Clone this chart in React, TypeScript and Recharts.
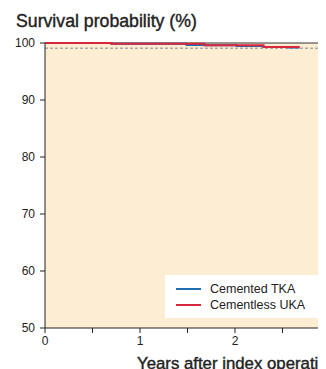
import React from 'react';
import { LineChart, Line, XAxis, YAxis, ReferenceArea, ReferenceLine } from 'recharts';

// Kaplan-Meier style step curves (years after operation, survival %)
const tkaYears = [0, 0.7, 1.49, 1.68, 2.02, 2.3, 2.56, 2.68];
const tkaSurvival = [100, 99.85, 99.65, 99.6, 99.47, 99.3, 99.2, 99.2];
const ukaYears = [0, 0.7, 1.68, 2.3, 2.68];
const ukaSurvival = [100, 99.85, 99.6, 99.3, 99.3];

const seriesNames = ['Cemented TKA', 'Cementless UKA'];
const seriesColors = ['#1f6cb0', '#d7263d'];

const xTicks = [0, 0.5, 1, 1.5, 2, 2.5, 3, 3.5, 4, 4.5, 5];
const yTicks = [50, 60, 70, 80, 90, 100];
const referenceLevel = 99.1;

const tkaData = tkaYears.map((t, i) => ({ t, v: tkaSurvival[i] }));
const ukaData = ukaYears.map((t, i) => ({ t, v: ukaSurvival[i] }));

const font = 'Liberation Sans, Arial, Helvetica, sans-serif';

// titles look like a medium weight, so regular + thin stroke
const headingStyle: React.CSSProperties = {
  position: 'absolute',
  color: '#222',
  whiteSpace: 'nowrap',
  WebkitTextStroke: '0.4px #222',
};

export default function App() {
  return (
    <div style={{ position: 'relative', width: 318, height: 361, overflow: 'hidden', fontFamily: font }}>
      <div style={{ ...headingStyle, fontSize: 17.7, left: 8, top: 3 }}>Survival probability (%)</div>
      <LineChart width={520} height={361} margin={{ top: 35, right: 8, left: 0, bottom: 0 }}>
        <ReferenceArea x1={0} x2={5} y1={50} y2={100} fill="#fdeed3" fillOpacity={1} stroke="none" />
        <ReferenceLine y={100} stroke="#333" strokeWidth={1} />
        <ReferenceLine y={referenceLevel} stroke="#aaa" strokeWidth={1.5} strokeDasharray="3 2" />
        <XAxis
          type="number"
          dataKey="t"
          domain={[0, 5]}
          ticks={xTicks}
          tickFormatter={(v: number) => (Number.isInteger(v) ? String(v) : '')}
          height={41}
          tickSize={5}
          tickMargin={3}
          stroke="#222"
          tick={{ fill: '#222', fontSize: 12, fontFamily: font }}
          allowDuplicatedCategory={false}
        />
        <YAxis
          type="number"
          domain={[50, 100]}
          ticks={yTicks}
          width={37}
          tickSize={5}
          tickMargin={5}
          stroke="#222"
          tick={{ fill: '#222', fontSize: 12, fontFamily: font }}
        />
        <Line data={tkaData} dataKey="v" type="stepAfter" stroke={seriesColors[0]} strokeWidth={2} dot={false} isAnimationActive={false} />
        <Line data={ukaData} dataKey="v" type="stepAfter" stroke={seriesColors[1]} strokeWidth={2} dot={false} isAnimationActive={false} />
      </LineChart>
      <div style={{ ...headingStyle, fontSize: 16.8, left: 129, top: 346 }}>Years after index operation</div>
      <div style={{ position: 'absolute', left: 157, top: 267, width: 160, height: 43, background: '#fff' }}>
        {seriesNames.map((name, i) => (
          <div key={name} style={{ position: 'absolute', left: 11, top: 6 + i * 16, height: 16, display: 'flex', alignItems: 'center', whiteSpace: 'nowrap' }}>
            <span style={{ display: 'inline-block', width: 25, height: 2, background: seriesColors[i], marginRight: 9 }} />
            <span style={{ fontSize: 12.5, color: '#222' }}>{name}</span>
          </div>
        ))}
      </div>
    </div>
  );
}
